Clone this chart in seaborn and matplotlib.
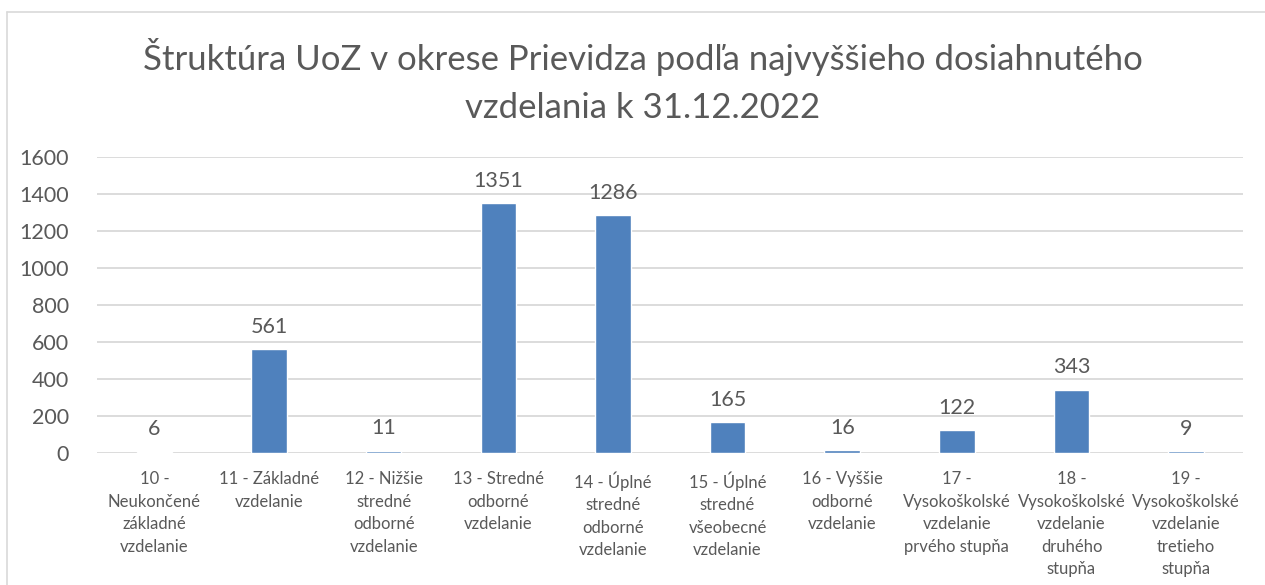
import matplotlib
matplotlib.use('Agg')
import matplotlib.pyplot as plt
import seaborn as sns
import pandas as pd
from matplotlib.lines import Line2D

categories = [
    '10 -\nNeukončené\nzákladné\nvzdelanie',
    '11 - Základné\nvzdelanie',
    '12 - Nižšie\nstredné\nodborné\nvzdelanie',
    '13 - Stredné\nodborné\nvzdelanie',
    '14 - Úplné\nstredné\nodborné\nvzdelanie',
    '15 - Úplné\nstredné\nvšeobecné\nvzdelanie',
    '16 - Vyššie\nodborné\nvzdelanie',
    '17 -\nVysokoškolské\nvzdelanie\nprvého stupňa',
    '18 -\nVysokoškolské\nvzdelanie\ndruhého\nstupňa',
    '19 -\nVysokoškolské\nvzdelanie\ntretieho\nstupňa',
]
counts = [6, 561, 11, 1351, 1286, 165, 16, 122, 343, 9]
yticks = [0, 200, 400, 600, 800, 1000, 1200, 1400, 1600]
title = 'Štruktúra UoZ v okrese Prievidza podľa najvyššieho dosiahnutého\nvzdelania k 31.12.2022'

df = pd.DataFrame({'kat': categories, 'pocet': counts})

sns.set_style('white')
plt.rcParams['font.family'] = ['Lato', 'DejaVu Sans']
txt = '#595959'

fig = plt.figure(figsize=(12.65, 5.85), dpi=100)
ax = fig.add_axes([0.0767, 0.2256, 0.9063, 0.506])

sns.barplot(data=df, x='kat', y='pocet', color='#4F81BD', width=0.31,
            saturation=1, ax=ax)

ax.set_ylim(0, 1600)
ax.set_yticks(yticks)
ax.set_yticklabels([str(v) for v in yticks], fontsize=15.5, color=txt)
ax.set_xlim(-0.5, len(categories) - 0.5)
ax.tick_params(axis='x', labelsize=12, colors=txt, length=0, pad=13)
ax.tick_params(axis='y', length=0, pad=20)
for lab in ax.get_xticklabels():
    lab.set_linespacing(1.5)
ax.set_xlabel('')
ax.set_ylabel('')
ax.grid(axis='y', color='#D9D9D9', linewidth=1.3)
ax.set_axisbelow(True)
for s in ax.spines.values():
    s.set_visible(False)

for i, v in enumerate(counts):
    ax.annotate(str(v), (i, v), xytext=(0, 9), textcoords='offset points',
                ha='center', va='bottom', fontsize=15.5, color=txt)

fig.text(0.508, 0.862, title, ha='center', va='center', fontsize=25,
         color=txt, linespacing=1.6)

# chart frame (cropped: only top and left edges visible)
fig.add_artist(Line2D([7 / 1265, 7 / 1265], [0, 1 - 12 / 585],
                      transform=fig.transFigure, color='#D9D9D9', lw=1.2))
fig.add_artist(Line2D([7 / 1265, 1], [1 - 12 / 585, 1 - 12 / 585],
                      transform=fig.transFigure, color='#D9D9D9', lw=1.2))

fig.savefig('out.png', dpi=100)
